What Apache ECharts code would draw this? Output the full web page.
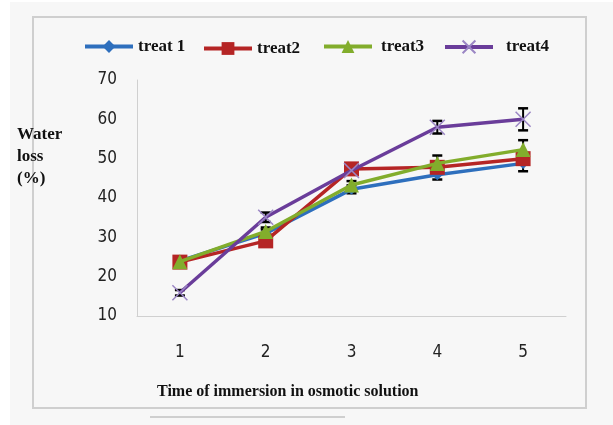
<!DOCTYPE html>
<html>
<head>
<meta charset="utf-8">
<script src="https://cdn.jsdelivr.net/npm/echarts@6/dist/echarts.min.js"></script>
<style>
html,body{margin:0;padding:0;background:#ffffff;}
#chart{width:613px;height:425px;}
</style>
</head>
<body>
<div id="chart"></div>
<script>
var categories = ['1', '2', '3', '4', '5'];
var treat1 = [24.0, 31.0, 42.2, 45.9, 48.8];
var treat2 = [23.7, 29.1, 47.4, 47.8, 50.0];
var treat3 = [23.8, 31.5, 43.3, 48.8, 52.3];
var treat4 = [15.9, 35.1, 47.0, 58.0, 60.0];
var err1 = [0.5, 1.0, 1.0, 1.2, 2.0];
var err2 = [0.5, 1.0, 1.0, 1.0, 1.5];
var err3 = [0.5, 1.0, 1.0, 2.0, 2.4];
var err4 = [0.7, 1.2, 1.0, 1.6, 2.8];
var yTicks = [10, 20, 30, 40, 50, 60, 70];

var colors = ['#2e6fbd', '#b52525', '#82ad2c', '#6a3d9a'];
var names = ['treat 1', 'treat2', 'treat3', 'treat4'];
var values = [treat1, treat2, treat3, treat4];
var errs = [err1, err2, err3, err4];
var symbols = ['diamond', 'rect', 'triangle', 'path://M0,0 L10,10 M10,0 L0,10'];
var symbolSizes = [11, 15, 15, 15];

var chart = echarts.init(document.getElementById('chart'), null, {renderer: 'canvas'});

var series = [];
values.forEach(function (vals, si) {
  var data = vals.map(function (v, i) { return [i, v - errs[si][i], v + errs[si][i]]; });
  series.push({
    type: 'custom',
    name: names[si] + ' err',
    z: 1,
    silent: true,
    renderItem: function (params, api) {
      var x = api.value(0);
      var lo = api.coord([x, api.value(1)]);
      var hi = api.coord([x, api.value(2)]);
      var hw = 5;
      return {
        type: 'group',
        children: [
          {type: 'line', shape: {x1: lo[0], y1: lo[1], x2: hi[0], y2: hi[1]}, style: {stroke: '#000', lineWidth: 2}},
          {type: 'line', shape: {x1: lo[0] - hw, y1: lo[1], x2: lo[0] + hw, y2: lo[1]}, style: {stroke: '#000', lineWidth: 2.5}},
          {type: 'line', shape: {x1: hi[0] - hw, y1: hi[1], x2: hi[0] + hw, y2: hi[1]}, style: {stroke: '#000', lineWidth: 2.5}}
        ]
      };
    },
    encode: {x: 0, y: [1, 2]},
    data: data
  });
});
values.forEach(function (vals, si) {
  var isX = si === 3;
  series.push({
    type: 'line',
    name: names[si],
    z: 3 + si,
    data: vals,
    symbol: symbols[si],
    symbolSize: symbolSizes[si],
    showAllSymbol: true,
    lineStyle: {color: colors[si], width: 3.5},
    itemStyle: isX ? {color: 'none', borderColor: '#9b86c4', borderWidth: 1.5} : {color: colors[si], borderWidth: 0},
    emphasis: {disabled: true},
    animation: false
  });
});

var legendLefts = [78, 197, 317, 438];
var legendTops = [33, 35, 33, 33];
var legends = names.map(function (n, i) {
  return {
    data: [n],
    left: legendLefts[i],
    top: legendTops[i],
    itemWidth: 48,
    itemHeight: 16,
    itemGap: 0,
    lineStyle: {width: 4},
    textStyle: {fontFamily: 'Liberation Serif, serif', fontWeight: 'bold', fontSize: 17, color: '#111', padding: i === 3 ? [0, 0, 0, 8] : (i === 2 ? [0, 0, 0, 4] : (i === 1 ? [4, 0, 0, 0] : 0))}
  };
});

var option = {
  backgroundColor: '#ffffff',
  animation: false,
  color: colors,
  legend: legends,
  grid: {left: 137, right: 47, top: 80, bottom: 109, containLabel: false},
  xAxis: {
    type: 'category',
    data: categories,
    boundaryGap: true,
    axisLine: {show: true, lineStyle: {color: '#d0d0d0', width: 1}},
    axisTick: {show: false},
    axisLabel: {margin: 28, fontFamily: 'DejaVu Sans Condensed, DejaVu Sans, sans-serif', fontSize: 17, color: '#222'},
    splitLine: {show: false}
  },
  yAxis: {
    type: 'value',
    min: yTicks[0],
    max: yTicks[yTicks.length - 1],
    interval: 10,
    axisLine: {show: true, lineStyle: {color: '#d0d0d0', width: 1}},
    axisTick: {show: false},
    axisLabel: {margin: 20, fontFamily: 'DejaVu Sans Condensed, DejaVu Sans, sans-serif', fontSize: 17, color: '#222'},
    splitLine: {show: false}
  },
  graphic: [
    {type: 'rect', z: -10, shape: {x: 10, y: 2, width: 603, height: 423}, style: {fill: '#f7f7f7'}},
    {type: 'rect', z: -9, shape: {x: 33, y: 17, width: 553, height: 391}, style: {fill: 'none', stroke: '#cfcfcf', lineWidth: 2}},
    {type: 'rect', z: -9, shape: {x: 150, y: 416, width: 195, height: 2}, style: {fill: '#cfcfcf'}},
    {type: 'text', left: 17, top: 124, style: {text: 'Water\nloss\n(%)', fontFamily: 'Liberation Serif, serif', fontWeight: 'bold', fontSize: 17, lineHeight: 22, fill: '#111'}},
    {type: 'text', left: 157, top: 384, style: {text: 'Time of immersion in osmotic solution', fontFamily: 'Liberation Serif, serif', fontWeight: 'bold', fontSize: 16, fill: '#111'}}
  ],
  series: series
};
chart.setOption(option);
</script>
</body>
</html>
